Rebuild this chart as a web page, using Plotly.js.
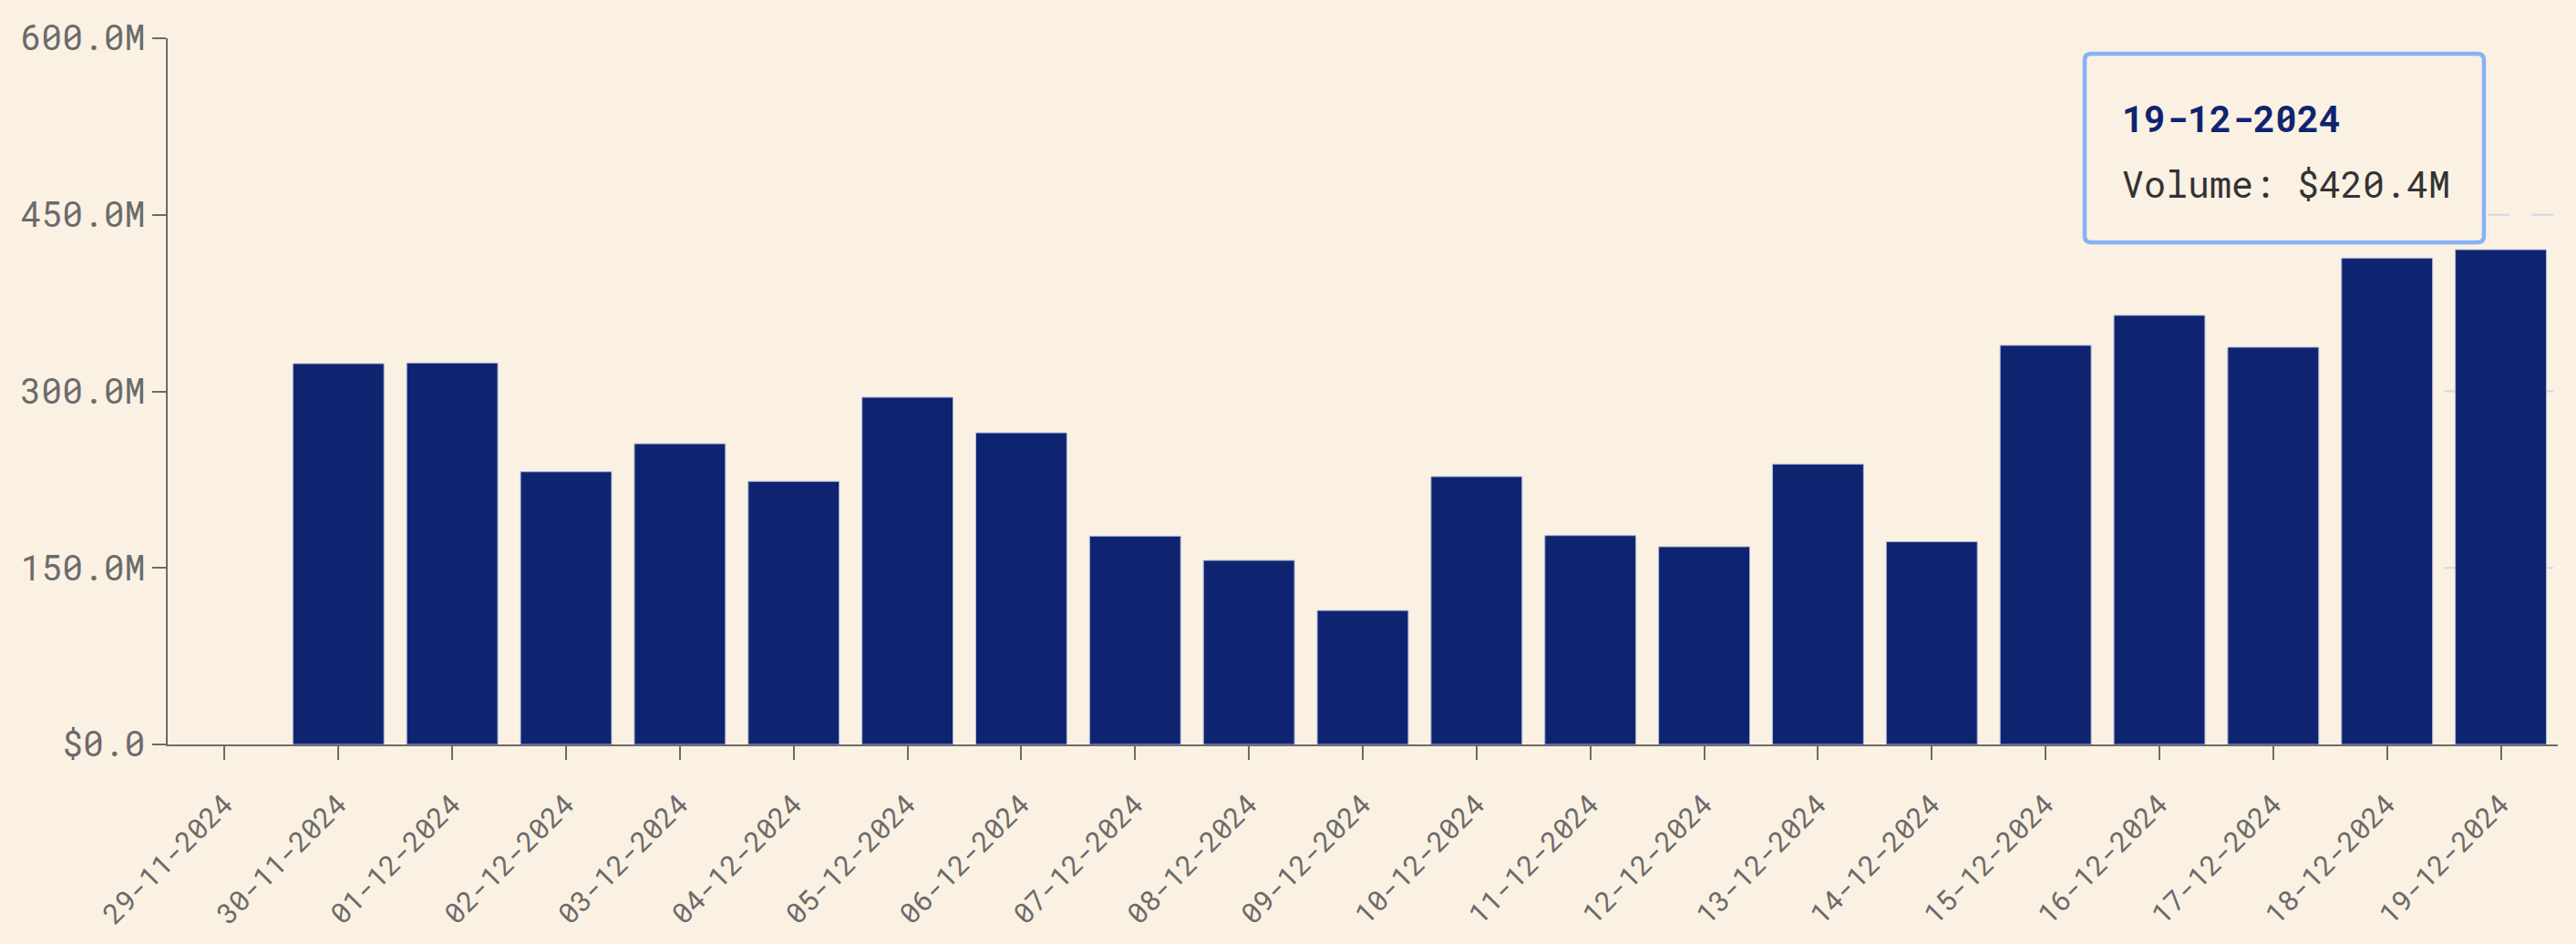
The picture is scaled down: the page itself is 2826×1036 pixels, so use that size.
<!DOCTYPE html>
<html>
<head>
<meta charset="utf-8">
<script src="https://cdn.plot.ly/plotly-3.0.1.min.js"></script>
<style>
  html, body { margin: 0; padding: 0; background: #fbf1e3; }
  #chart { width: 2826px; height: 1036px; }
</style>
</head>
<body>
<div id="chart"></div>
<script>
const dates = ["29-11-2024","30-11-2024","01-12-2024","02-12-2024","03-12-2024","04-12-2024","05-12-2024","06-12-2024","07-12-2024","08-12-2024","09-12-2024","10-12-2024","11-12-2024","12-12-2024","13-12-2024","14-12-2024","15-12-2024","16-12-2024","17-12-2024","18-12-2024","19-12-2024"];
const volumesM = [0, 323.6, 324.1, 231.7, 255.5, 223.5, 295.0, 264.8, 177.0, 156.4, 113.8, 227.6, 177.5, 168.0, 238.2, 172.3, 339.1, 364.6, 337.5, 413.2, 420.4];
const yTickVals = [0, 150e6, 300e6, 450e6, 600e6];
const yTickText = ["$0.0", "150.0M", "300.0M", "450.0M", "600.0M"];
const gridVals = [150e6, 300e6, 450e6];
const tooltipDate = dates[dates.length - 1];
const tooltipValue = volumesM[volumesM.length - 1];

const FONT = "'Roboto Mono', 'DejaVu Sans Mono', 'Liberation Mono', monospace";
const W = 2826, H = 1036;
const M = {l: 184, r: 20, t: 42, b: 219};
const PW = W - M.l - M.r, PH = H - M.t - M.b;
const px2x = p => (p - M.l) / PW;
const px2y = p => (H - M.b - p) / PH;

const trace = {
  type: 'bar',
  x: dates,
  y: volumesM.map(v => v * 1e6),
  marker: {color: '#0f2471', line: {color: '#aeb7dc', width: volumesM.map(v => v > 0 ? 1 : 0)}},
  hoverinfo: 'skip'
};

// hovered-band dashed gridlines (visible only around the last category)
const shapes = gridVals.map(v => ({
  type: 'line', layer: 'below', xref: 'x', yref: 'y',
  x0: dates.length - 1.5, x1: dates.length - 0.5, y0: v, y1: v,
  line: {color: '#d3d6e2', width: 2, dash: '24px,24px'}
}));

// tooltip box with rounded corners (paper coords)
const bx0 = px2x(2287), bx1 = px2x(2725), by0 = px2y(266), by1 = px2y(59);
const rx = 7 / PW, ry = 7 / PH;
shapes.push({
  type: 'path', xref: 'paper', yref: 'paper', layer: 'above',
  path: `M ${bx0+rx},${by1} L ${bx1-rx},${by1} Q ${bx1},${by1} ${bx1},${by1-ry} L ${bx1},${by0+ry} Q ${bx1},${by0} ${bx1-rx},${by0} L ${bx0+rx},${by0} Q ${bx0},${by0} ${bx0},${by0+ry} L ${bx0},${by1-ry} Q ${bx0},${by1} ${bx0+rx},${by1} Z`,
  fillcolor: 'rgba(251,241,227,0.97)',
  line: {color: '#85b3f6', width: 4.5}
});

const annotations = [
  {xref: 'paper', yref: 'paper', x: px2x(2326), y: px2y(129), xanchor: 'left', yanchor: 'middle',
   text: '<b>' + tooltipDate + '</b>', showarrow: false,
   font: {family: FONT, size: 40, color: '#0f2471'}},
  {xref: 'paper', yref: 'paper', x: px2x(2326), y: px2y(202), xanchor: 'left', yanchor: 'middle',
   text: 'Volume: $' + tooltipValue.toFixed(1) + 'M', showarrow: false,
   font: {family: FONT, size: 40, color: '#333333'}}
];

const layout = {
  width: W, height: H,
  margin: M,
  paper_bgcolor: '#fbf1e3', plot_bgcolor: '#fbf1e3',
  bargap: 0.2,
  showlegend: false,
  font: {family: FONT, color: '#666666'},
  xaxis: {
    type: 'category', range: [-0.5, dates.length - 0.5],
    showline: true, linecolor: '#6b6b6b', linewidth: 2,
    ticks: 'outside', ticklen: 15, tickwidth: 2, tickcolor: '#6b6b6b',
    tickangle: -45, tickfont: {family: FONT, size: 31, color: '#6b6b6b'},
    ticklabelstandoff: 18,
    showgrid: false, zeroline: false
  },
  yaxis: {
    range: [0, 600e6],
    tickvals: yTickVals, ticktext: yTickText,
    showline: true, linecolor: '#6b6b6b', linewidth: 2,
    ticks: 'outside', ticklen: 15, tickwidth: 2, tickcolor: '#6b6b6b',
    tickfont: {family: FONT, size: 38, color: '#6b6b6b'},
    showgrid: false, zeroline: false
  },
  shapes: shapes,
  annotations: annotations
};

Plotly.newPlot('chart', [trace], layout, {staticPlot: true, displayModeBar: false});
</script>
</body>
</html>
